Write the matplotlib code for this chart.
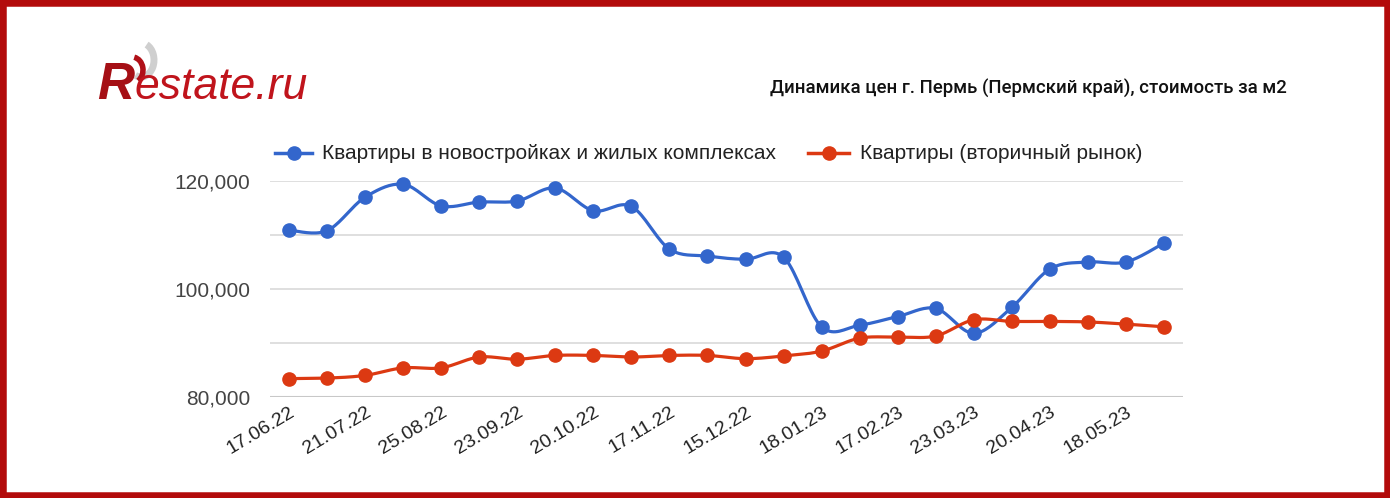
import numpy as np
import matplotlib
matplotlib.use("Agg")
import matplotlib.pyplot as plt
from matplotlib.patches import Rectangle, Arc
from matplotlib.ticker import FuncFormatter

# values, rub/m2
new_build = [110900, 110800, 117000, 119400, 115400, 116100, 116300, 118700,
             114500, 115300, 107400, 106100, 105500, 105900, 93000, 93300,
             94900, 96400, 91800, 96600, 103700, 105000, 105000, 108500]
secondary = [83400, 83500, 84000, 85400, 85400, 87400, 87000, 87700,
             87700, 87400, 87700, 87700, 87100, 87600, 88500, 90900,
             91100, 91300, 94300, 94000, 94000, 93900, 93500, 93000]
tick_labels = ["17.06.22", "21.07.22", "25.08.22", "23.09.22", "20.10.22",
               "17.11.22", "15.12.22", "18.01.23", "17.02.23", "23.03.23",
               "20.04.23", "18.05.23"]
series_names = ["Квартиры в новостройках и жилых комплексах",
                "Квартиры (вторичный рынок)"]


def smooth(y, k=1/6., n=20):
    # catmull-rom style curve through the points
    x = np.arange(len(y), dtype=float)
    y = np.asarray(y, dtype=float)
    xs, ys = [], []
    for i in range(len(y) - 1):
        i0, i2 = max(i - 1, 0), min(i + 2, len(y) - 1)
        p0 = np.array([x[i], y[i]])
        p3 = np.array([x[i + 1], y[i + 1]])
        p1 = p0 + (np.array([x[i + 1], y[i + 1]]) - np.array([x[i0], y[i0]])) * k
        p2 = p3 - (np.array([x[i2], y[i2]]) - np.array([x[i], y[i]])) * k
        t = np.linspace(0, 1, n)[:, None]
        b = (1 - t) ** 3 * p0 + 3 * (1 - t) ** 2 * t * p1 + 3 * (1 - t) * t ** 2 * p2 + t ** 3 * p3
        xs.extend(b[:, 0]); ys.extend(b[:, 1])
    return xs, ys


fig = plt.figure(figsize=(13.9, 4.98), dpi=100)
ax = fig.add_axes([0.1942, 0.2028, 0.8511 - 0.1942, 0.6365 - 0.2028])

colors = ["#3366cc", "#dc3912"]
x = np.arange(len(new_build))
for vals, c, name in zip([new_build, secondary], colors, series_names):
    sx, sy = smooth(vals)
    ax.plot(sx, sy, color=c, lw=2.3, clip_on=False, zorder=3)
    ax.plot(x, vals, "o", color=c, ms=9.5, clip_on=False, zorder=4)

ax.set_xlim(-0.5, len(x) - 0.5)
ax.set_ylim(80000, 120000)
ax.set_yticks([80000, 90000, 100000, 110000, 120000])
ax.yaxis.set_major_formatter(FuncFormatter(
    lambda v, p: "{:,.0f}".format(v) if v % 20000 == 0 else ""))
ax.set_xticks(x[::2])
ax.set_xticklabels(tick_labels, rotation=31, ha="right", rotation_mode="anchor",
                   fontsize=14, color="#222222", family="Liberation Sans")
for lab in ax.get_yticklabels():
    lab.set_fontsize(15)
    lab.set_color("#444444")
    lab.set_family("Liberation Sans")
ax.tick_params(axis="y", length=0, pad=14)
ax.tick_params(axis="x", length=0, pad=5)
ax.grid(axis="y", color="#d9d9d9", lw=1.2)
ax.set_axisbelow(True)
for s in ax.spines.values():
    s.set_visible(False)
ax.axhline(80000, color="#c8c8c8", lw=1.5, zorder=1)

# legend
ly = 153
def px(xp, yp):
    return xp / 1390, 1 - yp / 498
for (x0, x1, tx), c, name in zip([(275, 312, 322), (808, 849, 860)], colors, series_names):
    fig.add_artist(plt.Line2D([px(x0, ly)[0], px(x1, ly)[0]], [px(x0, ly)[1]] * 2,
                              color=c, lw=2.5))
    fig.add_artist(plt.Line2D([px((x0 + x1) / 2, ly)[0]], [px(0, ly)[1]],
                              marker="o", color=c, ms=9.5))
    fig.text(*px(tx, ly), name, fontsize=15, color="#222222",
             family="Liberation Sans", va="center", ha="left")

# title
fig.text(*px(1287, 88), "Динамика цен г. Пермь (Пермский край), стоимость за м2",
         fontsize=13.4, ha="right", va="center", color="#111111",
         family="Roboto", weight="medium")

# logo
fig.text(*px(97, 99), "R", fontsize=37, style="italic", weight="bold",
         color="#a50f15", family="Liberation Sans", va="baseline")
fig.text(*px(134, 99), "estate.ru", fontsize=32, style="italic",
         color="#c0141c", family="Liberation Sans", va="baseline")
logo_ax = fig.add_axes([0, 0, 1, 1], facecolor="none")
logo_ax.set_xlim(0, 1390); logo_ax.set_ylim(498, 0); logo_ax.axis("off")
logo_ax.add_patch(Arc((141, 60), 26, 34, theta1=-70, theta2=110, color="#cfcfcf", lw=5))
logo_ax.add_patch(Arc((132, 70), 22, 26, theta1=-80, theta2=60, color="#b01018", lw=4))

# red frame
fig.add_artist(Rectangle((0, 0), 1, 1, transform=fig.transFigure, fill=False,
                         edgecolor="#b30b0b", lw=9))

fig.savefig("out.png", dpi=100)
